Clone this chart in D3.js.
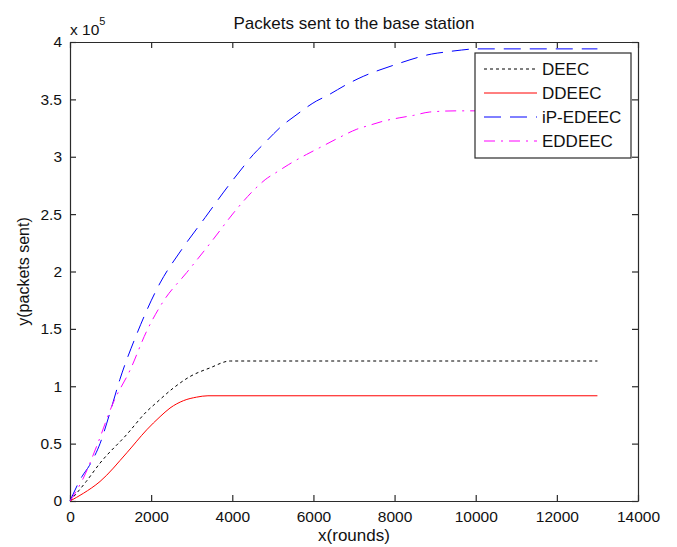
<!DOCTYPE html>
<html>
<head>
<meta charset="utf-8">
<script src="https://cdn.jsdelivr.net/npm/d3@7"></script>
<style>
	body { margin: 0; background: #fff; }
	svg { font-family: "Liberation Sans", Arial, sans-serif; }
</style>
</head>
<body>
<div id="chart-div"></div>
<script>

// values: [round, packets sent in units of 10^5]
const deec = [[0,0],[400,0.17],[740,0.33],[1400,0.58],[1890,0.78],[2140,0.86],[2550,0.985],[2960,1.085],[3450,1.16],[3950,1.22],[13000,1.22]]
const ddeec = [[0,0],[330,0.067],[740,0.17],[1400,0.42],[1890,0.62],[2220,0.735],[2465,0.81],[2800,0.875],[3120,0.905],[3400,0.917],[13000,0.917]]
const ipEdeec = [[0,0],[290,0.21],[480,0.31],[740,0.5],[985,0.77],[1230,1.06],[1640,1.45],[2220,1.9],[2750,2.19],[3330,2.47],[3900,2.745],[4190,2.876],[4520,3.02],[4770,3.11],[5260,3.28],[5545,3.356],[6080,3.487],[6325,3.53],[6820,3.63],[7100,3.68],[8130,3.816],[8380,3.845],[8910,3.895],[9200,3.91],[9650,3.93],[10000,3.94],[13000,3.94]]
const eddeec = [[0,0],[330,0.2],[660,0.48],[1070,0.86],[1480,1.14],[1890,1.48],[2300,1.74],[2875,1.99],[3530,2.28],[4030,2.51],[4560,2.72],[4810,2.8],[5100,2.867],[5380,2.93],[5830,3.02],[6160,3.08],[6650,3.17],[7070,3.24],[7390,3.275],[7720,3.31],[8130,3.34],[8460,3.36],[8870,3.39],[9530,3.4],[13000,3.4]]

const seriesNames = ['DEEC','DDEEC','iP-EDEEC','EDDEEC']
const xTicks = [0,2000,4000,6000,8000,10000,12000,14000]
const yTicks = [0,0.5,1,1.5,2,2.5,3,3.5,4]

const width = 677, height = 547
const margin = {top: 42, right: 39, bottom: 46, left: 70}
const plot_width = width - margin.left - margin.right
const plot_height = height - margin.top - margin.bottom

const series_style = [
	{data: deec, color: '#000000', dash: '3,3'},
	{data: ddeec, color: '#ff0000', dash: null},
	{data: ipEdeec, color: '#0000ff', dash: '17,9'},
	{data: eddeec, color: '#ff00ff', dash: '11,6,2,6'}
]

var svg = d3.select('#chart-div').append('svg')
	.attr('width', width)
	.attr('height', height)

var grp = svg.append('g')
	.attr('transform', 'translate(' + margin.left + ',' + margin.top + ')')

// scales
var x = d3.scaleLinear()
	.domain([0, 14000])
	.range([0, plot_width])

var y = d3.scaleLinear()
	.domain([0, 4])
	.range([plot_height, 0])

// box with inward ticks on all sides
var axis_color = '#2b2b2b'
var fmt = d => String(d)

var gx = grp.append('g')
	.attr('transform', 'translate(0,' + plot_height + ')')
	.call(d3.axisBottom(x).tickValues(xTicks).tickFormat(fmt).tickSizeInner(-6).tickSizeOuter(0).tickPadding(10))
var gy = grp.append('g')
	.call(d3.axisLeft(y).tickValues(yTicks).tickFormat(fmt).tickSizeInner(-6).tickSizeOuter(0).tickPadding(8))
var gt = grp.append('g')
	.call(d3.axisTop(x).tickValues(xTicks).tickFormat('').tickSizeInner(-6).tickSizeOuter(0))
var gr = grp.append('g')
	.attr('transform', 'translate(' + plot_width + ',0)')
	.call(d3.axisRight(y).tickValues(yTicks).tickFormat('').tickSizeInner(-6).tickSizeOuter(0))

grp.selectAll('.domain, .tick line')
	.attr('stroke', axis_color)
	.attr('stroke-width', 1.2)
grp.selectAll('.tick text')
	.attr('fill', '#111')
	.style('font-size', '15.5px')
	.style('font-family', '"Liberation Sans", Arial, sans-serif')

// lines
var line = d3.line()
	.x(d => x(d[0]))
	.y(d => y(d[1]))
	.curve(d3.curveMonotoneX)

grp.selectAll('.series')
	.data(series_style)
	.enter()
	.append('path')
		.attr('class', 'series')
		.attr('d', d => line(d.data))
		.attr('fill', 'none')
		.attr('stroke', d => d.color)
		.attr('stroke-width', 1)
		.attr('stroke-dasharray', d => d.dash)

// title and labels
svg.append('text')
	.attr('x', margin.left + plot_width / 2)
	.attr('y', 29)
	.attr('text-anchor', 'middle')
	.style('font-size', '17px')
	.attr('fill', '#111')
	.text('Packets sent to the base station')

svg.append('text')
	.attr('x', margin.left + plot_width / 2)
	.attr('y', 541)
	.attr('text-anchor', 'middle')
	.style('font-size', '17px')
	.attr('fill', '#111')
	.text('x(rounds)')

svg.append('text')
	.attr('transform', 'rotate(-90)')
	.attr('x', -(margin.top + plot_height / 2))
	.attr('y', 29)
	.attr('text-anchor', 'middle')
	.style('font-size', '16px')
	.attr('fill', '#111')
	.text('y(packets sent)')

var expo = svg.append('text')
	.attr('x', margin.left)
	.attr('y', 35)
	.style('font-size', '15.5px')
	.attr('fill', '#111')
expo.append('tspan').text('x 10')
expo.append('tspan')
	.attr('dy', -10)
	.style('font-size', '11px')
	.text('5')

// legend
var legend = svg.append('g')
	.attr('transform', 'translate(475,53)')

legend.append('rect')
	.attr('width', 156)
	.attr('height', 105)
	.attr('fill', '#fff')
	.attr('stroke', axis_color)
	.attr('stroke-width', 1.2)

var items = legend.selectAll('.legend-item')
	.data(series_style)
	.enter()
	.append('g')
		.attr('class', 'legend-item')
		.attr('transform', (d, i) => 'translate(0,' + (16 + i * 24) + ')')

items.append('line')
	.attr('x1', 9)
	.attr('x2', 62)
	.attr('stroke', d => d.color)
	.attr('stroke-width', 1)
	.attr('stroke-dasharray', d => d.dash)

items.append('text')
	.attr('x', 67)
	.attr('dy', '0.36em')
	.style('font-size', '17px')
	.attr('fill', '#111')
	.text((d, i) => seriesNames[i])

</script>
</body>
</html>
